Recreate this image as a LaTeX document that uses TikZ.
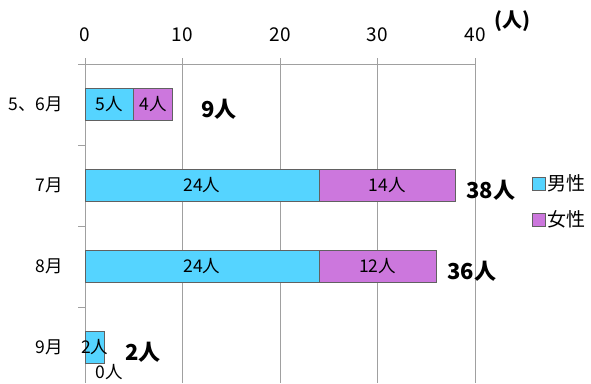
\documentclass[tikz,border=0pt]{standalone}
\usepackage{fontspec}
\setmainfont{Noto Sans CJK JP}
\definecolor{male}{HTML}{55D4FF}
\definecolor{female}{HTML}{CC77DD}
\definecolor{gridgray}{HTML}{A0A0A0}

\begin{document}
\begin{tikzpicture}[x=1pt,y=-1pt,
   every node/.style={inner sep=0pt,font=\fontsize{17.5}{17.5}\selectfont},
   gridline/.style={draw=gridgray,line width=1pt},
   barseg/.style={draw=black!62,line width=1pt},
   total/.style={anchor=west,font=\fontsize{22}{22}\selectfont\bfseries}]
\useasboundingbox (0,0) rectangle (591,383);
% axes and grid
\draw[gridline] (78,64) -- (475,64);
\foreach \v in {0,10,20,30,40}{
  \draw[gridline] ({85+9.75*\v},58) -- ({85+9.75*\v},383);
  \node[font=\fontsize{19}{19}\selectfont] (x\v) at ({85+9.75*\v},35) {\v};
}
\foreach \t in {145,226,307}
  \draw[gridline] (78,\t) -- (85,\t);
\node[font=\fontsize{20}{20}\selectfont\bfseries] (unit) at (512,21) {(人)};
% bars
\foreach \m/\f/\s/\c/\y/\tx [count=\i] in
   {5/4/9/{5、6月}/104.5/201, 24/14/38/7月/185.5/466, 24/12/36/8月/266.5/447, 2/0/2/9月/347.5/125}{
  \draw[barseg,fill=male] (85,\y-16) rectangle ({85+9.75*\m},\y+16);
  \ifnum\f>0
    \draw[barseg,fill=female] ({85+9.75*\m},\y-16) rectangle ({85+9.75*(\m+\f)},\y+16);
    \node (f\i) at ({85+9.75*(\m+\f/2)},\y) {\f 人};
  \fi
  \node (m\i) at ({85+9.75*\m/2},\y) {\m 人};
  \node[anchor=east] (c\i) at (63,\y) {\c};
  \node[total] (t\i) at (\tx,\y+5) {\s 人};
}
\node (f4) at (109,372) {0人};
% legend
\draw[barseg,fill=male] (532,177) rectangle (545,190);
\node[anchor=west,font=\fontsize{19}{19}\selectfont] (lm) at (547,183.5) {男性};
\draw[barseg,fill=female] (532,213) rectangle (545,226);
\node[anchor=west,font=\fontsize{19}{19}\selectfont] (lf) at (547,219.5) {女性};
\end{tikzpicture}
\end{document}
